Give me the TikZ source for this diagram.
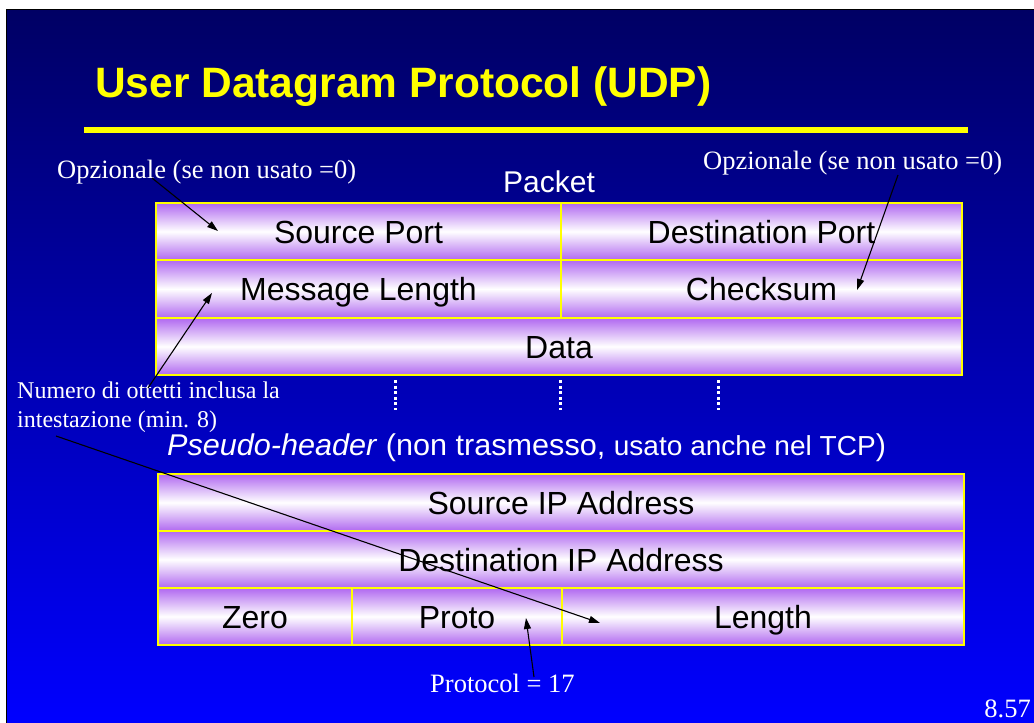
\documentclass[tikz,border=0pt]{standalone}
\usepackage{fontspec}
\setmainfont{Liberation Serif}
\setsansfont{Liberation Sans}
\usetikzlibrary{arrows.meta}
\definecolor{bgtop}{RGB}{0,0,100}
\definecolor{bgmid}{RGB}{0,0,200}
\definecolor{bgbot}{RGB}{0,0,255}
\definecolor{cellpurple}{RGB}{176,104,240}
\definecolor{ylw}{RGB}{255,255,0}
\tikzset{
  cell/.style={draw=ylw, line width=2.5pt, rectangle, top color=cellpurple,
    bottom color=cellpurple, middle color=white, inner sep=0pt,
    text height=23pt, text depth=0pt,
    font=\sffamily\fontsize{32}{36}\selectfont, text=black},
  lbl/.style={text=white, inner sep=0pt, anchor=base west,
    font=\rmfamily\fontsize{26.5}{29}\selectfont},
  arr/.style={draw=black, line width=1.1pt, -{Triangle[length=11pt,width=7pt]}},
  dots/.style={draw=white, line width=3pt, dash pattern=on 3pt off 2.6pt},
}
\begin{document}
\begin{tikzpicture}[x=1pt,y=-1pt]
\useasboundingbox (0,0) rectangle (1034,723);
\fill[white] (0,0) rectangle (1034,723);
\shade[top color=bgtop, middle color=bgmid, bottom color=bgbot] (6,9) rectangle (1034,723);
\draw[black, line width=1pt] (6,723) -- (6,9) -- (1034,9);
% title
\node[anchor=base west, inner sep=0pt, text=ylw, font=\sffamily\bfseries\fontsize{42.5}{46}\selectfont] (title) at (95,97) {User Datagram Protocol (UDP)};
\fill[ylw] (84,127) rectangle (968,133);
% packet
\node[anchor=base, inner sep=0pt, text=white, font=\sffamily\fontsize{30}{34}\selectfont] (packet) at (549,192) {Packet};
\node[cell, minimum width=405pt, minimum height=57pt] (sp) at (358.5,231.5) {Source Port};
\node[cell, minimum width=401pt, minimum height=57pt] (dp) at (761.5,231.5) {Destination Port};
\node[cell, minimum width=405pt, minimum height=58pt] (ml) at (358.5,289) {Message Length};
\node[cell, minimum width=401pt, minimum height=58pt] (cs) at (761.5,289) {Checksum};
\node[cell, minimum width=806pt, minimum height=57pt] (data) at (559,346.5) {Data};
% dotted separators
\draw[dots] (395,380) -- (395,410);
\draw[dots] (560,380) -- (560,410);
\draw[dots] (718,380) -- (718,410);
% pseudo header
\node[anchor=base west, inner sep=0pt, text=white, font=\sffamily\fontsize{30}{34}\selectfont] (ph) at (167,455)
  {\scalebox{1.02}[1]{\textit{Pseudo-header} (non trasmesso, {\fontsize{27.5}{30}\selectfont usato anche nel TCP})}};
\node[cell, minimum width=806pt, minimum height=57pt] (sip) at (561,502.5) {Source IP Address};
\node[cell, minimum width=806pt, minimum height=57pt] (dip) at (561,559.5) {Destination IP Address};
\node[cell, minimum width=194pt, minimum height=57pt] (zero) at (255,616.5) {Zero};
\node[cell, minimum width=210pt, minimum height=57pt] (proto) at (457,616.5) {Proto};
\node[cell, minimum width=402pt, minimum height=57pt] (len) at (763,616.5) {Length};
% labels
\node[lbl] (opt1) at (57,178) {Opzionale (se non usato =0)};
\node[lbl] (opt2) at (703,169) {Opzionale (se non usato =0)};
\node[lbl, font=\rmfamily\fontsize{24}{29}\selectfont] (num1) at (17,398) {Numero di ottetti inclusa la};
\node[lbl, font=\rmfamily\fontsize{24}{29}\selectfont] (num2) at (17,427) {intestazione (min. 8)};
\node[lbl] (prot) at (430,692) {Protocol = 17};
\node[lbl, anchor=base east] (page) at (1031,717) {8.57};
% arrows
\coordinate (a1s) at (152,178); \coordinate (a1e) at (218,231);
\coordinate (a2s) at (898,175); \coordinate (a2e) at (857,290);
\coordinate (a3s) at (148,388); \coordinate (a3e) at (212,293);
\coordinate (a4s) at (56,436);  \coordinate (a4e) at (600,623);
\coordinate (a5s) at (534,677); \coordinate (a5e) at (526,618);
\draw[arr] (a1s) -- (a1e);
\draw[arr] (a2s) -- (a2e);
\draw[arr] (a3s) -- (a3e);
\draw[arr] (a4s) -- (a4e);
\draw[arr] (a5s) -- (a5e);
\end{tikzpicture}
\end{document}
